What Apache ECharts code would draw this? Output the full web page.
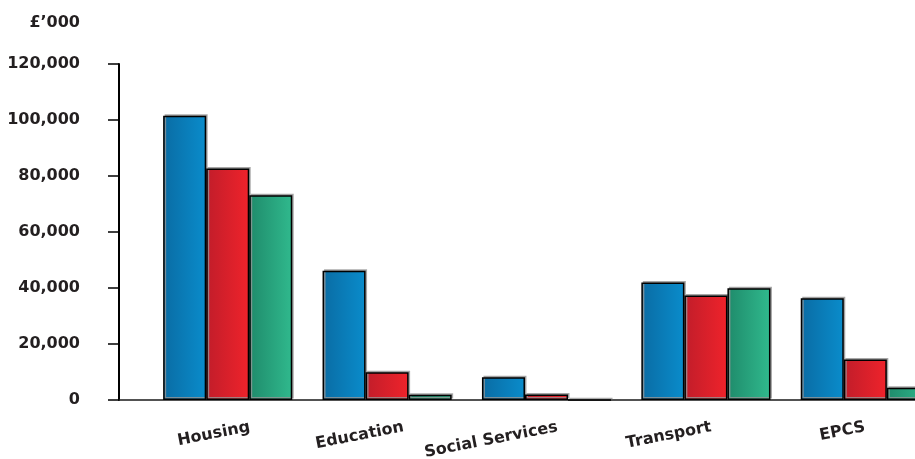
<!DOCTYPE html>
<html>
<head>
<meta charset="utf-8">
<script src="https://cdn.jsdelivr.net/npm/echarts@6/dist/echarts.min.js"></script>
<style>
  html, body { margin: 0; padding: 0; background: #ffffff; }
  #chart { width: 915px; height: 459px; }
</style>
</head>
<body>
<div id="chart"></div>
<script>
// Spending by service area, £'000
const categories = ['Housing', 'Education', 'Social Services', 'Transport', 'EPCS'];
const seriesNames = ['Series 1', 'Series 2', 'Series 3'];
const valuesBlue  = [101500, 46200, 8100, 42000, 36300];
const valuesRed   = [82700, 9900, 2000, 37300, 14500];
const valuesGreen = [73100, 1900, 0, 39900, 4400];
const yTicks = [0, 20000, 40000, 60000, 80000, 100000, 120000];
const unitLabel = '£\u2019000';

const fontFamily = '"DejaVu Sans", "Noto Sans", sans-serif';
const textColor = '#231f20';

function barGradient(dark, light) {
  return new echarts.graphic.LinearGradient(0, 0, 1, 0, [
    { offset: 0, color: dark },
    { offset: 1, color: light }
  ]);
}

function barSeries(name, data, dark, light) {
  return {
    name: name,
    type: 'bar',
    xAxisIndex: 0,
    yAxisIndex: 0,
    data: data,
    barGap: '0%',
    barCategoryGap: '19%',
    itemStyle: {
      color: barGradient(dark, light),
      borderColor: '#000000',
      borderWidth: 1.5,
      shadowColor: 'rgba(150,150,150,0.8)',
      shadowBlur: 0,
      shadowOffsetX: 1.5,
      shadowOffsetY: -1.5
    }
  };
}

const chart = echarts.init(document.getElementById('chart'), null, { renderer: 'canvas' });

chart.setOption({
  animation: false,
  backgroundColor: '#ffffff',
  grid: [
    // plotting area for the bars; runs past the right edge of the canvas
    { left: 148, width: 797, top: 64, bottom: 59, outerBoundsMode: 'none' },
    // frame carrying the value axis and the baseline
    { left: 119, right: 0, top: 64, bottom: 59, outerBoundsMode: 'none' },
    // slightly tighter band used for the category captions
    { left: 173, width: 769, top: 64, bottom: 59, outerBoundsMode: 'none' }
  ],
  xAxis: [
    {
      type: 'category',
      gridIndex: 0,
      data: categories,
      axisLine: { show: false },
      axisTick: { show: false },
      axisLabel: { show: false }
    },
    {
      type: 'category',
      gridIndex: 1,
      data: [''],
      axisLine: { show: true, lineStyle: { color: '#1a1a1a', width: 1.5 } },
      axisTick: { show: false },
      axisLabel: { show: false }
    },
    {
      type: 'category',
      gridIndex: 2,
      data: categories,
      axisLine: { show: false },
      axisTick: { show: false },
      axisLabel: {
        rotate: 11,
        margin: 27,
        color: textColor,
        fontFamily: fontFamily,
        fontWeight: 'bold',
        fontSize: 16,
        interval: 0
      }
    }
  ],
  yAxis: [
    {
      type: 'value',
      gridIndex: 0,
      min: yTicks[0],
      max: yTicks[yTicks.length - 1],
      interval: yTicks[1] - yTicks[0],
      show: false
    },
    {
      type: 'value',
      gridIndex: 1,
      min: yTicks[0],
      max: yTicks[yTicks.length - 1],
      interval: yTicks[1] - yTicks[0],
      name: unitLabel,
      nameLocation: 'end',
      nameGap: 33,
      nameTextStyle: {
        color: textColor,
        fontFamily: fontFamily,
        fontWeight: 'bold',
        fontSize: 16,
        align: 'right',
        padding: [0, 39, 0, 0]
      },
      axisLine: { show: true, lineStyle: { color: '#000000', width: 2 } },
      axisTick: { show: true, length: 11, lineStyle: { color: '#000000', width: 1.5 } },
      splitLine: { show: false },
      axisLabel: {
        margin: 39,
        color: textColor,
        fontFamily: fontFamily,
        fontWeight: 'bold',
        fontSize: 16,
        formatter: function (v) { return v.toLocaleString('en-GB'); }
      }
    },
    {
      type: 'value',
      gridIndex: 2,
      show: false
    }
  ],
  series: [
    barSeries(seriesNames[0], valuesBlue, '#0a6ca4', '#0a8ccb'),
    barSeries(seriesNames[1], valuesRed, '#c11d2a', '#ef232b'),
    barSeries(seriesNames[2], valuesGreen, '#1f8b6b', '#30b98d')
  ]
});
</script>
</body>
</html>
